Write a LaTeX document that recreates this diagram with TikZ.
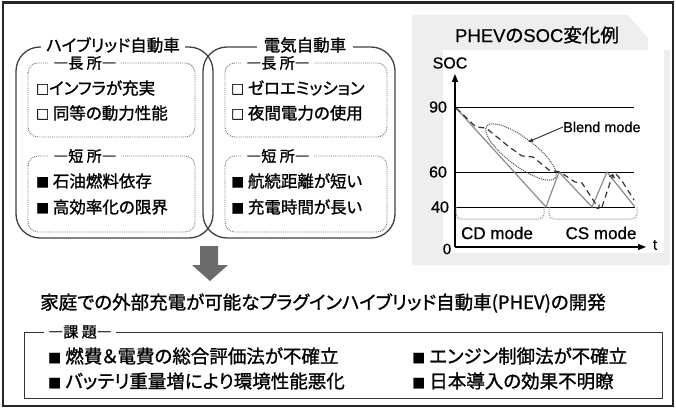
\documentclass[tikz,border=0pt]{standalone}
\usepackage{fontspec}
\newfontfamily\jp[RawFeature=+palt, FakeBold=1.2]{Noto Sans CJK JP}
\newfontfamily\ar[FakeBold=0.6]{Liberation Sans}
\usetikzlibrary{arrows.meta}
\newcommand\sqo{{\fontsize{13}{13}\selectfont □}}
\newcommand\sqf{{\fontsize{13}{13}\selectfont ■}}
\begin{document}
\begin{tikzpicture}[x=1pt,y=-1pt,
  panel/.style={draw=black!75, line width=1.3pt, rounded corners=24pt},
  subbox/.style={draw=black!55, densely dotted, line width=0.9pt, rounded corners=10pt},
  ttl/.style={fill=white, inner ysep=1pt, inner xsep=5pt, font=\jp\fontsize{16.5}{18}\selectfont},
  lbl/.style={fill=white, inner ysep=1pt, inner xsep=4pt, font=\jp\fontsize{15}{17}\selectfont},
  item/.style={anchor=west, inner sep=0pt, font=\jp\fontsize{16.5}{18}\selectfont},
  bitem/.style={anchor=west, inner sep=0pt, font=\jp\fontsize{18.5}{20}\selectfont},
  gtxt/.style={inner sep=0pt, font=\ar\fontsize{15}{17}\selectfont},
  hline/.style={draw=black, line width=1pt},
  dsh/.style={draw=black!80, line width=1.2pt, dash pattern=on 6pt off 4pt},
  axis/.style={draw=black, line width=1.1pt, -{Triangle[length=8pt,width=6pt]}}
]
\useasboundingbox (0,0) rectangle (676,409);
% outer frame
\draw[line width=2.2pt, black!85] (3,2.5) rectangle (673,406);

% ---------- graph background ----------
\fill[gray!13] (412,15) -- (628,15) -- (648,38) -- (648,50) -- (670,50) -- (670,265) -- (412,265) -- cycle;
\fill[white] (443,50) rectangle (664,253);
\node[inner sep=0pt, font=\jp\fontsize{18.5}{20}\selectfont] (gtitle) at (537,35) {{\ar PHEV}の{\ar SOC}変化例};

% axes
\coordinate (O) at (455,247);
\coordinate (ytop) at (455,74);
\coordinate (xend) at (646,247);
\draw[axis] (O) -- (ytop);
\draw[axis] (O) -- (xend);
\node[gtxt, font=\ar\fontsize{16}{18}\selectfont] (soclbl) at (450,63) {SOC};
\node[gtxt] (zero) at (447,249) {0};
\node[gtxt] (tlbl) at (655,245) {t};

% reference lines
\coordinate (a90) at (455,107); \coordinate (b90) at (634,107);
\coordinate (a60) at (455,172); \coordinate (b60) at (634,172);
\coordinate (a40) at (455,207); \coordinate (b40) at (635,207);
\draw[hline] (a90) -- (b90);
\draw[hline] (a60) -- (b60);
\draw[hline] (a40) -- (b40);
\node[gtxt, font=\ar\fontsize{16}{18}\selectfont] (n90) at (438,107) {90};
\node[gtxt, font=\ar\fontsize{16}{18}\selectfont] (n60) at (438,172) {60};
\node[gtxt, font=\ar\fontsize{16}{18}\selectfont] (n40) at (440,207) {40};

% CD + CS solid gray line
\draw[black!45, line width=1.2pt] (456,108) -- (546,207) -- (559,172) -- (592,207) -- (607,172) -- (635,207);

% blend dashed line
\draw[dsh, -{To[length=4pt,width=6pt]}] (456,108) -- (476,127) -- (486,128) -- (508,146) -- (522,156) -- (533,157) -- (549,170) -- (560,172) -- (575,182) -- (582,183) -- (599,209);
\draw[dsh, -{To[length=4pt,width=6pt]}] (602,207) -- (613,174);
\draw[dsh] (616,174) -- (622,181) -- (634,200);

% blend ellipse + label
\draw[black!70, densely dotted, line width=1pt, rotate around={-37:(521,152)}] (521,152) ellipse [x radius=43, y radius=14];
\node[gtxt, anchor=west, font=\ar\fontsize{14.5}{17}\selectfont] (blend) at (563,127) {Blend mode};
\coordinate (ellpt) at (528,142);
\draw[black!85, line width=0.9pt, -{Latex[length=5pt,width=4pt]}] (blend.west) -- (ellpt);

% mode brackets
\draw[black!45, densely dotted, line width=1pt, rounded corners=5pt] (456,207) -- (456,219) -- (544,219) -- (544,207);
\draw[black!45, densely dotted, line width=1pt, rounded corners=5pt] (549,207) -- (549,219) -- (637,219) -- (637,207);
\node[gtxt, font=\ar\fontsize{17}{19}\selectfont] (cd) at (497,233) {CD mode};
\node[gtxt, font=\ar\fontsize{17}{19}\selectfont] (cs) at (601,233) {CS mode};

% ---------- left / right panels ----------
\draw[panel] (16,47) rectangle (213,238);
\draw[panel] (203,47) rectangle (395,238);
\node[ttl] (hvt) at (113,45) {ハイブリッド自動車};
\node[ttl, inner xsep=7pt] (evt) at (305,45) {電気自動車};

\draw[subbox] (28,63) rectangle (195,137);
\draw[subbox] (28,156) rectangle (195,232);
\draw[subbox] (225,63) rectangle (387,137);
\draw[subbox] (225,156) rectangle (387,232);
\node[lbl] (hvp) at (85,63) {―長 所―};
\node[lbl] (hvm) at (85,156) {―短 所―};
\node[lbl] (evp) at (278,63) {―長 所―};
\node[lbl] (evm) at (278,156) {―短 所―};

\node[item] (h1) at (36,88) {\sqo インフラが充実};
\node[item] (h2) at (36,113) {\sqo\ 同等の動力性能};
\node[item] (h3) at (36,181) {\sqf\ 石油燃料依存};
\node[item] (h4) at (36,207) {\sqf\ 高効率化の限界};
\node[item] (e1) at (231,88) {\sqo\ ゼロエミッション};
\node[item] (e2) at (231,113) {\sqo\ 夜間電力の使用};
\node[item] (e3) at (231,181) {\sqf\ 航続距離が短い};
\node[item] (e4) at (231,207) {\sqf\ 充電時間が長い};

% ---------- down arrow ----------
\fill[black!58] (200,246) -- (218,246) -- (218,265) -- (228,265) -- (210,281) -- (192,265) -- (200,265) -- cycle;

% ---------- main statement ----------
\node[anchor=west, inner sep=0pt, font=\jp\fontsize{18.5}{20}\selectfont] (main) at (40,303) {家庭での外部充電が可能なプラグインハイブリッド自動車(PHEV)の開発};

% ---------- issues box ----------
\draw[black!80, line width=1pt] (24,332) rectangle (662,398);
\node[lbl] (kadai) at (80,332) {―課 題―};
\node[bitem] (k1) at (48,356) {\sqf\ 燃費＆電費の総合評価法が不確立};
\node[bitem] (k2) at (48,381) {\sqf\ バッテリ重量増により環境性能悪化};
\node[bitem] (k3) at (412,356) {\sqf\ エンジン制御法が不確立};
\node[bitem] (k4) at (412,381) {\sqf\ 日本導入の効果不明瞭};
\end{tikzpicture}
\end{document}
